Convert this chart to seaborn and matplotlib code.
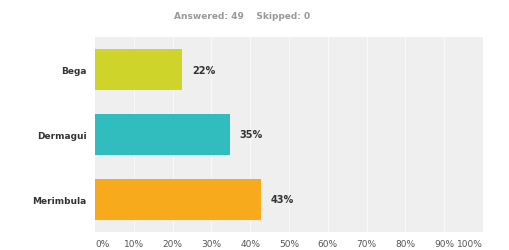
import matplotlib.pyplot as plt
import pandas as pd
import seaborn as sns

# 数据
towns = ["Bega", "Dermagui", "Merimbula"]
percents = [22.45, 34.69, 42.86]
value_labels = ["22%", "35%", "43%"]
bar_colors = ["#cfd42a", "#31bdbd", "#f8aa1d"]
tick_values = [0, 10, 20, 30, 40, 50, 60, 70, 80, 90, 100]
tick_labels = ["0%", "10%", "20%", "30%", "40%", "50%", "60%", "70%", "80%", "90%", "100%"]

df = pd.DataFrame({"town": towns, "pct": percents})

sns.set_theme(style="white")
plt.rcParams["font.family"] = ["DejaVu Sans"]

fig = plt.figure(figsize=(5.09, 2.51), dpi=100)
ax = fig.add_axes([95 / 509, 1 - 233 / 251, 388 / 509, 195 / 251])
ax.set_facecolor("#efefef")

sns.barplot(data=df, x="pct", y="town", hue="town", palette=bar_colors,
            width=0.62, legend=False, ax=ax, saturation=1, edgecolor="none")

ax.set_xlim(0, 100)
ax.set_ylim(2.5, -0.5)
ax.set_xticks(tick_values)
ax.set_xticklabels(tick_labels, fontsize=6.5, color="#555555")
for i, lab in enumerate(ax.get_xticklabels()):
    if i == 0:
        lab.set_ha("left")
    elif i == len(tick_values) - 1:
        lab.set_ha("right")
ax.tick_params(axis="x", length=0, pad=5)
ax.tick_params(axis="y", length=0, pad=6)
for lab in ax.get_yticklabels():
    lab.set_fontsize(6.5)
    lab.set_fontweight("bold")
    lab.set_color("#333333")

# 白色竖直网格线
for v in tick_values[1:-1]:
    ax.axvline(v, color="#f9f9f9", linewidth=0.7, zorder=0)
ax.set_axisbelow(True)

for s in ax.spines.values():
    s.set_visible(False)
ax.set_xlabel("")
ax.set_ylabel("")

# 数值标签
for p, txt in zip(ax.patches, value_labels):
    ax.annotate(txt, (p.get_width(), p.get_y() + p.get_height() / 2),
                xytext=(7, 0), textcoords="offset points",
                ha="left", va="center", fontsize=7, fontweight="bold", color="#333333")

fig.text(242 / 509, 1 - 17 / 251, "Answered: 49    Skipped: 0", ha="center", va="center",
         fontsize=6.5, fontweight="bold", color="#999999")

fig.savefig("out.png", dpi=100)
